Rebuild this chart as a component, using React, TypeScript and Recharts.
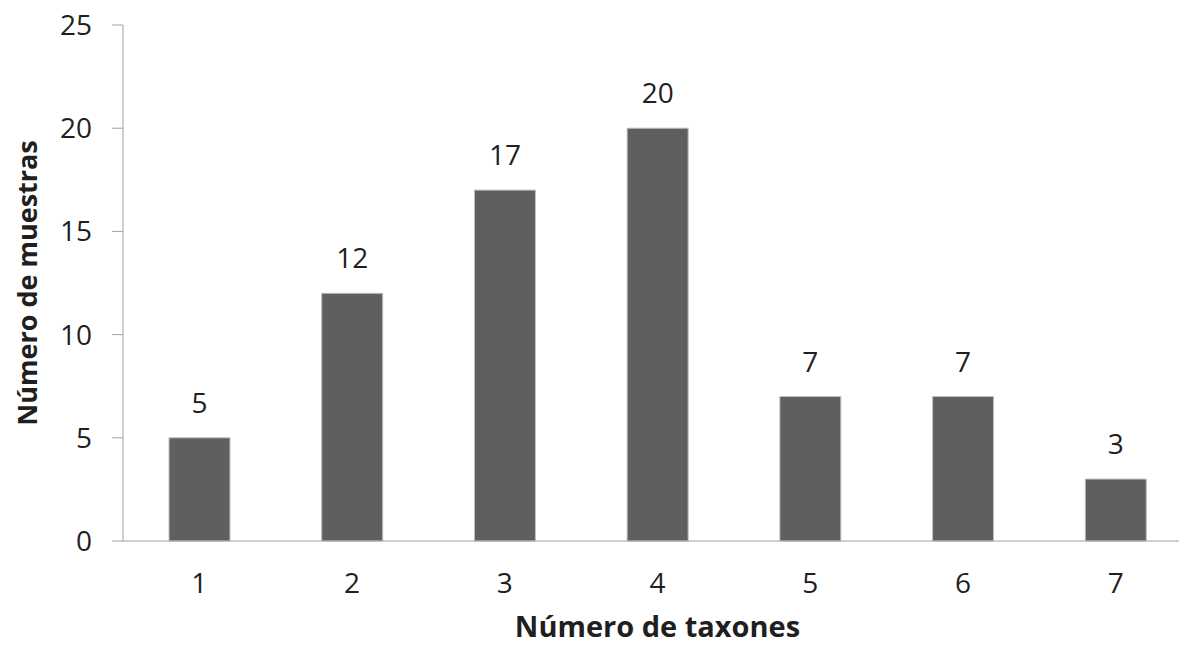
import { Bar, BarChart, LabelList, XAxis, YAxis } from "recharts"

const taxones = ["1", "2", "3", "4", "5", "6", "7"]
const muestras = [5, 12, 17, 20, 7, 7, 3]
const yTicks = [0, 5, 10, 15, 20, 25]

const data = taxones.map((t, i) => ({ taxones: t, muestras: muestras[i] }))

const font = "'Open Sans', sans-serif"
const textColor = "#1f1f1f"
const axisColor = "#a0a0a0"

function YTitle(props: any) {
  const vb = props.viewBox
  const cx = vb.x + 26
  const cy = vb.y + vb.height / 2
  return (
    <text
      x={cx}
      y={cy}
      transform={`rotate(-90, ${cx}, ${cy})`}
      textAnchor="middle"
      dominantBaseline="central"
      fontFamily={font}
      fontWeight="bold"
      fontSize={27}
      fill={textColor}
    >
      Número de muestras
    </text>
  )
}

export default function App() {
  return (
    <div
      style={{
        position: "fixed",
        left: 0,
        top: 0,
        width: 1179,
        height: 645,
        overflow: "hidden",
        background: "#fff",
      }}
    >
      <BarChart
        width={1192}
        height={645}
        data={data}
        margin={{ top: 25, right: 0, bottom: 0, left: 0 }}
      >
        <XAxis
          dataKey="taxones"
          height={104}
          tickLine={false}
          tickSize={0}
          tickMargin={32}
          stroke={axisColor}
          tick={{ fill: textColor, fontSize: 28, fontFamily: font }}
          label={{
            value: "Número de taxones",
            position: "insideBottom",
            offset: 8,
            fill: textColor,
            fontSize: 29,
            fontWeight: "bold",
            fontFamily: font,
          }}
        />
        <YAxis
          width={123}
          domain={[0, 25]}
          ticks={yTicks}
          tickSize={11}
          tickMargin={20}
          stroke={axisColor}
          tick={{ fill: textColor, fontSize: 28, fontFamily: font }}
          label={<YTitle />}
        />
        <Bar
          dataKey="muestras"
          fill="#5f5f5f"
          stroke="#c0c0c0"
          strokeWidth={1}
          barSize={61}
          isAnimationActive={false}
        >
          <LabelList
            dataKey="muestras"
            position="top"
            offset={25}
            fill={textColor}
            fontSize={28}
            fontFamily={font}
          />
        </Bar>
      </BarChart>
    </div>
  )
}
